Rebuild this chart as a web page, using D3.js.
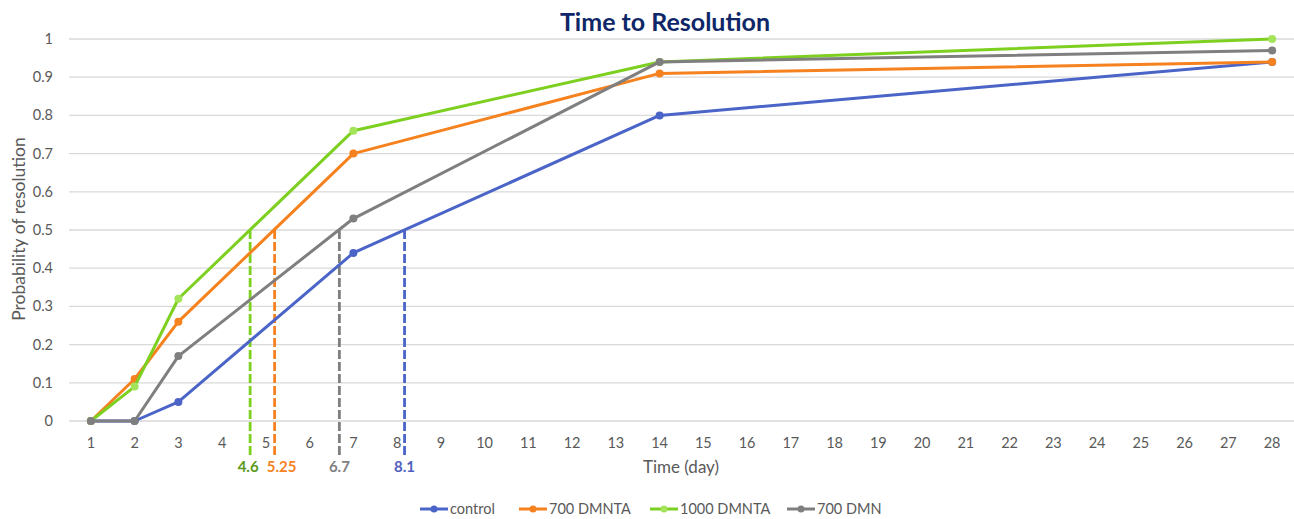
<!DOCTYPE html>
<html><head><meta charset="utf-8">
<script src="https://cdn.jsdelivr.net/npm/d3@7"></script>
<style>body{margin:0;background:#fff}svg{display:block;font-family:Lato,"Open Sans",sans-serif}</style>
</head><body><svg id="c" width="1294" height="519"></svg>
<script>
const days = [1, 2, 3, 7, 14, 28];
const xTicks = d3.range(1, 29);
const yTicks = [0, 0.1, 0.2, 0.3, 0.4, 0.5, 0.6, 0.7, 0.8, 0.9, 1];
const seriesNames = ["control", "700 DMNTA", "1000 DMNTA", "700 DMN"];
const control = [0, 0, 0.05, 0.44, 0.80, 0.94];
const dmnta700 = [0, 0.11, 0.26, 0.70, 0.91, 0.94];
const dmnta1000 = [0, 0.09, 0.32, 0.76, 0.94, 1.0];
const dmn700 = [0, 0, 0.17, 0.53, 0.94, 0.97];
const medianDays = [4.64, 5.2, 6.68, 8.17];
const medianLabels = ["4.6", "5.25", "6.7", "8.1"];

const lineColors = ["#4a64c8", "#f5821f", "#7dcf20", "#7f7f7f"];
const markColors = ["#4a64c8", "#f5821f", "#a3e45a", "#7f7f7f"];
const labelColors = ["#5060c0", "#f5821f", "#5a9a1a", "#808080"];
const medianColors = [lineColors[2], lineColors[1], lineColors[3], lineColors[0]];
const medianLabelColors = [labelColors[2], labelColors[1], labelColors[3], labelColors[0]];

const svg = d3.select("#c");
const x = d3.scaleLinear().domain([0.5, 28.5]).range([69, 1294]);
const y = d3.scaleLinear().domain([0, 1]).range([421, 39]);

// gridlines
svg.append("g").selectAll("line").data(yTicks).join("line")
  .attr("x1", 69).attr("x2", 1294).attr("y1", d => y(d)).attr("y2", d => y(d))
  .attr("stroke", "#d9d9d9").attr("stroke-width", 1.3);

// y tick labels
svg.append("g").selectAll("text").data(yTicks).join("text")
  .attr("x", 53).attr("y", d => y(d)).attr("dy", "0.35em").attr("text-anchor", "end")
  .attr("fill", "#595959").attr("font-size", 14.5).text(d => d3.format("~g")(d));

// x tick labels
svg.append("g").selectAll("text").data(xTicks).join("text")
  .attr("x", d => x(d)).attr("y", 443).attr("dy", "0.35em").attr("text-anchor", "middle")
  .attr("fill", "#595959").attr("font-size", 14.5).text(d => d);

// axis titles
svg.append("text").attr("transform", "translate(19,229) rotate(-90)")
  .attr("text-anchor", "middle").attr("dy", "0.35em").attr("fill", "#595959").attr("font-size", 17.5)
  .text("Probability of resolution");
svg.append("text").attr("x", 681).attr("y", 467).attr("dy", "0.35em").attr("text-anchor", "middle")
  .attr("fill", "#595959").attr("font-size", 17).text("Time (day)");

// title
svg.append("text").attr("x", 665).attr("y", 22).attr("dy", "0.35em").attr("text-anchor", "middle")
  .attr("fill", "#0f2768").attr("font-size", 25).attr("font-weight", "bold").text("Time to Resolution");

// median dashed lines
svg.append("g").selectAll("line").data(medianDays).join("line")
  .attr("x1", d => x(d)).attr("x2", d => x(d)).attr("y1", y(0.5)).attr("y2", 458)
  .attr("stroke", (d, i) => medianColors[i]).attr("stroke-width", 2.8).attr("stroke-dasharray", "9,3");
const labelShift = [-2, 7, 0, 0];
svg.append("g").selectAll("text").data(medianDays).join("text")
  .attr("x", (d, i) => x(d) + labelShift[i]).attr("y", 467).attr("dy", "0.35em")
  .attr("text-anchor", "middle").attr("font-weight", "bold").attr("font-size", 15)
  .attr("fill", (d, i) => medianLabelColors[i]).text((d, i) => medianLabels[i]);

// series
const allSeries = [control, dmnta700, dmnta1000, dmn700];
const line = d3.line().x((d, i) => x(days[i])).y(d => y(d));
allSeries.forEach((vals, s) => {
  const g = svg.append("g");
  g.append("path").datum(vals).attr("d", line).attr("fill", "none")
    .attr("stroke", lineColors[s]).attr("stroke-width", 3).attr("stroke-linejoin", "round");
  g.selectAll("circle").data(vals).join("circle")
    .attr("cx", (d, i) => x(days[i])).attr("cy", d => y(d)).attr("r", 4)
    .attr("fill", markColors[s]);
});

// legend
const legendX = [420, 519, 650, 787];
const lg = svg.append("g");
seriesNames.forEach((n, s) => {
  const g = lg.append("g").attr("transform", `translate(${legendX[s]},509)`);
  g.append("line").attr("x1", 0).attr("x2", 28).attr("stroke", lineColors[s]).attr("stroke-width", 3);
  g.append("circle").attr("cx", 14).attr("r", 3.5).attr("fill", markColors[s]);
  g.append("text").attr("x", 30).attr("dy", "0.35em").attr("fill", "#595959").attr("font-size", 14.5).text(n);
});
</script></body></html>
